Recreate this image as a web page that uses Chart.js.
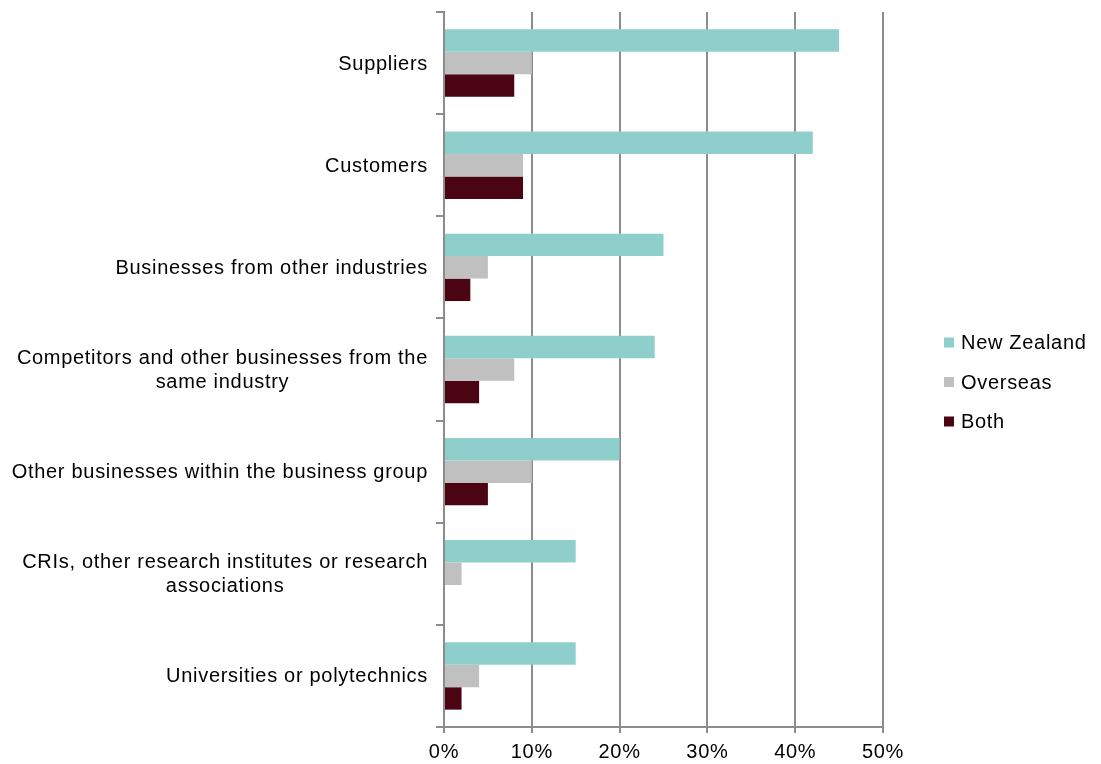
<!DOCTYPE html>
<html>
<head>
<meta charset="utf-8">
<script src="https://cdn.jsdelivr.net/npm/chart.js@4"></script>
<style>
  html, body { margin: 0; padding: 0; background: #fff; }
  #wrap { width: 1101px; height: 764px; }
</style>
</head>
<body>
<div id="wrap"><canvas id="myChart" width="1101" height="764"></canvas></div>
<script>
// sources of co-operation, % of businesses
const categories = [
    'Suppliers',
    'Customers',
    'Businesses from other industries',
    ['Competitors and other businesses from the', 'same industry'],
    'Other businesses within the business group',
    ['CRIs, other research institutes or research', 'associations'],
    'Universities or polytechnics'
];
const newZealand = [45, 42, 25, 24, 20, 15, 15];
const overseas = [10, 9, 5, 8, 10, 2, 4];
const both = [8, 9, 3, 4, 5, 0, 2];
const seriesNames = ['New Zealand', 'Overseas', 'Both'];
const barColors = ['#8ecfcc', '#c0c0c0', '#4a0412'];

const FONT = '"Liberation Sans", Arial, sans-serif';
const FONT_SIZE = 20;
const SPACING = '0.7px';
const gridColor = '#8c8c8c';

// slightly open lettering for everything chart.js draws
const spacedText = {
    id: 'spacedText',
    beforeLayout(chart) { chart.ctx.letterSpacing = SPACING; },
    beforeDraw(chart) { chart.ctx.letterSpacing = SPACING; }
};

// category labels: block right-aligned to the axis, lines centred inside the block
const centredLabels = {
    id: 'centredLabels',
    afterDraw(chart) {
        const scale = chart.scales.y;
        const ctx = chart.ctx;
        const lineH = 24;
        ctx.save();
        ctx.letterSpacing = SPACING;
        ctx.font = FONT_SIZE + 'px ' + FONT;
        ctx.fillStyle = '#000';
        ctx.textAlign = 'center';
        ctx.textBaseline = 'middle';
        const right = scale.right - 16;
        categories.forEach((label, i) => {
            const lines = [].concat(label);
            const w = Math.max(...lines.map(l => ctx.measureText(l).width));
            const cx = right - w / 2;
            const y0 = scale.getPixelForValue(i) + 1 - (lines.length - 1) * lineH / 2;
            lines.forEach((l, j) => ctx.fillText(l, cx, y0 + j * lineH));
        });
        ctx.restore();
    }
};

// legend column to the right of the plot
const sideLegend = {
    id: 'sideLegend',
    afterDraw(chart) {
        const ctx = chart.ctx;
        const sets = chart.data.datasets;
        const step = 39.5;
        const x = chart.chartArea.right + 61;
        let y = chart.height / 2 - step * (sets.length - 1) / 2;
        ctx.save();
        ctx.letterSpacing = SPACING;
        ctx.font = FONT_SIZE + 'px ' + FONT;
        ctx.textBaseline = 'middle';
        ctx.textAlign = 'left';
        sets.forEach((ds) => {
            ctx.fillStyle = ds.backgroundColor;
            ctx.fillRect(x, y - 5, 10, 10);
            ctx.fillStyle = '#000';
            ctx.fillText(ds.label, x + 17, y + 1);
            y += step;
        });
        ctx.restore();
    }
};

new Chart('myChart', {
    type: 'bar',
    data: {
        labels: categories,
        datasets: [
            { label: seriesNames[0], data: newZealand, backgroundColor: barColors[0] },
            { label: seriesNames[1], data: overseas, backgroundColor: barColors[1] },
            { label: seriesNames[2], data: both, backgroundColor: barColors[2] }
        ]
    },
    options: {
        indexAxis: 'y',
        responsive: false,
        animation: false,
        categoryPercentage: 0.66,
        barPercentage: 1,
        layout: { padding: { top: 12, right: 218, left: 0, bottom: 0 } },
        scales: {
            x: {
                min: 0,
                max: 50,
                ticks: {
                    stepSize: 10,
                    color: '#000',
                    font: { family: FONT, size: FONT_SIZE },
                    padding: 7,
                    maxRotation: 0,
                    callback: (v) => v + '%'
                },
                grid: { color: gridColor, lineWidth: 2, tickLength: 6 },
                border: { color: gridColor, width: 2 },
                afterFit: (scale) => { scale.height = 37; }
            },
            y: {
                ticks: { display: false },
                grid: { drawOnChartArea: false, color: gridColor, lineWidth: 2, tickLength: 8 },
                border: { color: gridColor, width: 2 },
                afterFit: (scale) => { scale.width = 444; }
            }
        },
        plugins: {
            legend: { display: false },
            tooltip: { enabled: false }
        }
    },
    plugins: [spacedText, centredLabels, sideLegend]
});
</script>
</body>
</html>
